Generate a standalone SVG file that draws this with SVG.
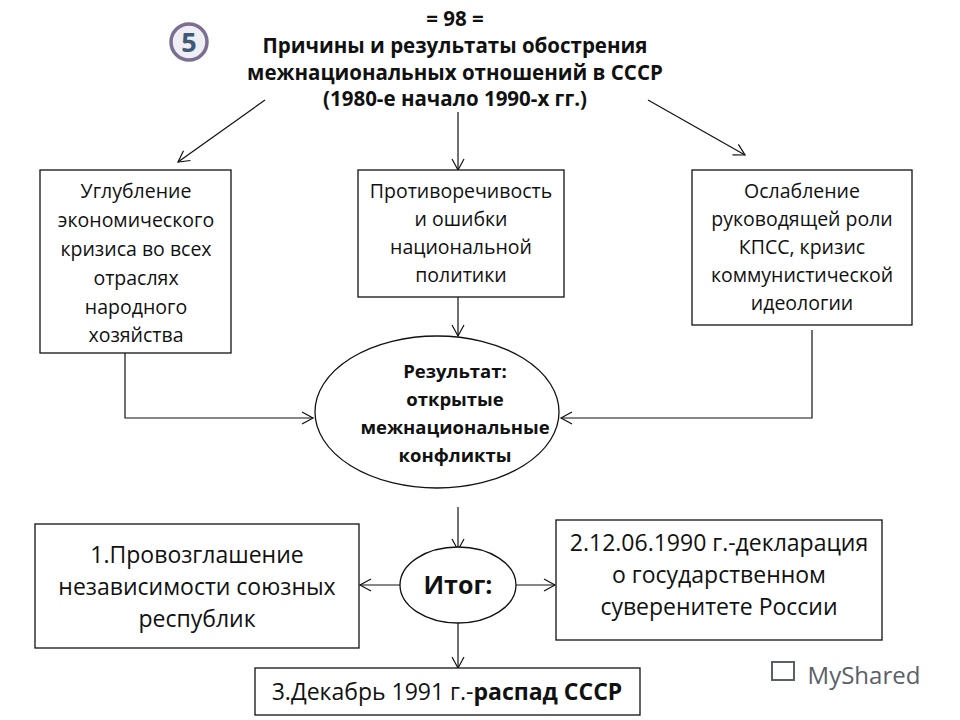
<svg xmlns="http://www.w3.org/2000/svg" width="960" height="720" viewBox="0 0 960 720">
<style>
text{font-family:"Open Sans","Liberation Sans",sans-serif;fill:#111;text-anchor:middle}
.t{font-weight:bold;font-size:20.5px}
.b{font-size:19.5px}
.r{font-weight:bold;font-size:18.5px}
.l{font-size:23px}
.box{fill:#fff;stroke:#111;stroke-width:1.3}
.c{fill:none;stroke:#111;stroke-width:1.2;marker-end:url(#a)}
</style>
<defs><marker id="a" markerWidth="14" markerHeight="14" refX="12" refY="7" orient="auto" markerUnits="userSpaceOnUse"><path d="M1,1 L12,7 L1,13" fill="none" stroke="#111" stroke-width="1.2"/></marker></defs>
<rect width="960" height="720" fill="#fff"/>
<g id="badge"><circle cx="189" cy="42" r="18" fill="#eeeef4" stroke="#7a6e92" stroke-width="3.5"/><text x="189" y="52" style="font-weight:bold;font-size:27px;fill:#3f5a78">5</text></g>
<g id="title">
<text class="t" x="455" y="26">= 98 =</text>
<text class="t" x="455" y="53">Причины и результаты обострения</text>
<text class="t" x="455" y="80">межнациональных отношений в СССР</text>
<text class="t" x="455" y="106">(1980-е начало 1990-х гг.)</text>
</g>
<g id="connectors">
<path class="c" d="M265,100 L178,162"/>
<path class="c" d="M458,112 L458,170"/>
<path class="c" d="M648,100 L745,155"/>
<path class="c" d="M458,297 L458,336"/>
<path class="c" d="M125,353 L125,418 L313,418"/>
<path class="c" d="M812,330 L812,418 L561,418"/>
<path class="c" d="M458,507 L458,550"/>
<path class="c" d="M400,585 L360,585"/>
<path class="c" d="M516,585 L555,585"/>
<path class="c" d="M458,623 L458,668"/>
</g>
<g id="n1"><rect class="box" x="40" y="170" width="191" height="183"/>
<text class="b" x="136" y="198">Углубление</text><text class="b" x="136" y="227">экономического</text><text class="b" x="136" y="256">кризиса во всех</text><text class="b" x="136" y="285">отраслях</text><text class="b" x="136" y="314">народного</text><text class="b" x="136" y="342">хозяйства</text></g>
<g id="n2"><rect class="box" x="358" y="170" width="206" height="127"/>
<text class="b" x="461" y="198">Противоречивость</text><text class="b" x="461" y="226">и ошибки</text><text class="b" x="461" y="254">национальной</text><text class="b" x="461" y="282">политики</text></g>
<g id="n3"><rect class="box" x="692" y="170" width="220" height="155"/>
<text class="b" x="802" y="198">Ослабление</text><text class="b" x="802" y="226">руководящей роли</text><text class="b" x="802" y="254">КПСС, кризис</text><text class="b" x="802" y="282">коммунистической</text><text class="b" x="802" y="310">идеологии</text></g>
<g id="result"><ellipse class="box" cx="437" cy="412" rx="122" ry="76"/>
<text class="r" x="455" y="378">Результат:</text><text class="r" x="455" y="406">открытые</text><text class="r" x="455" y="434">межнациональные</text><text class="r" x="455" y="462">конфликты</text></g>
<g id="itog"><ellipse class="box" cx="458" cy="585" rx="58" ry="38"/><text x="458" y="594" style="font-weight:bold;font-size:25px">Итог:</text></g>
<g id="left"><rect class="box" x="35" y="524" width="324" height="124"/>
<text class="l" x="197" y="563">1.Провозглашение</text><text class="l" x="197" y="595">независимости союзных</text><text class="l" x="197" y="627">республик</text></g>
<g id="right"><rect class="box" x="556" y="520" width="326" height="120"/>
<text class="l" x="719" y="551">2.12.06.1990 г.-декларация</text><text class="l" x="719" y="583">о государственном</text><text class="l" x="719" y="615">суверенитете России</text></g>
<g id="bottom"><rect class="box" x="255" y="668" width="385" height="47"/>
<text class="l" x="447" y="700">3.Декабрь 1991 г.-<tspan font-weight="bold">распад СССР</tspan></text></g>
<g id="wm"><text x="864" y="684" style="font-size:24px;fill:#5a6068;font-family:'Open Sans',sans-serif">MyShared</text>
<rect x="772" y="662" width="22" height="18" fill="none" stroke="#5a6068" stroke-width="2"/></g>
</svg>
